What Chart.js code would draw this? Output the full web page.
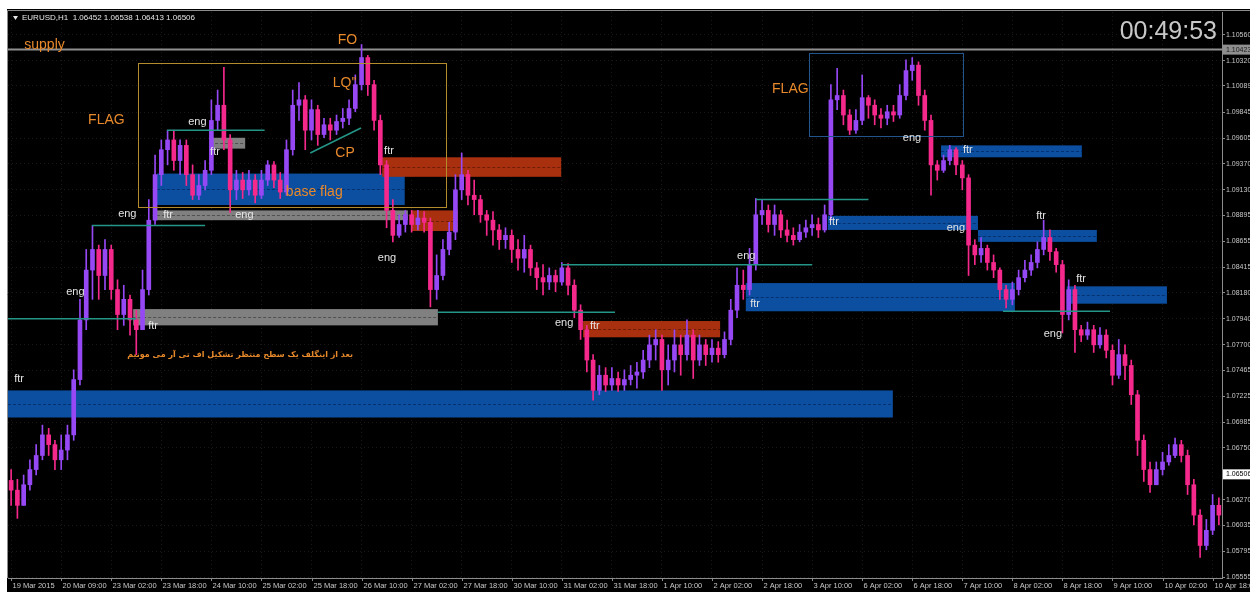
<!DOCTYPE html>
<html>
<head>
<meta charset="utf-8">
<script src="https://cdn.jsdelivr.net/npm/chart.js@4/dist/chart.umd.min.js"></script>
<style>
  html, body { margin: 0; padding: 0; background: #fff; width: 1250px; height: 592px; overflow: hidden; }
  #wrap { position: absolute; left: 7px; top: 9px; width: 1243px; height: 583px; background: #000; }
</style>
</head>
<body>
<div id="wrap"><canvas id="chart" width="1243" height="583"></canvas></div>
<script>
// EURUSD, 2h candles (open = previous close)
const firstOpen = 1.0645;
const closes = [
  1.0636,1.0622,1.0641,1.0655,1.0668,1.0687,1.0678,1.0664,1.0673,1.0687,
  1.0738,1.0793,1.0839,1.0858,1.0834,1.0858,1.0821,1.0798,1.0812,1.0793,
  1.0784,1.0821,1.0885,1.0927,1.0950,1.0959,1.0940,1.0954,1.0927,1.0908,
  1.0917,1.0931,1.0977,1.0991,1.0959,1.0913,1.0922,1.0913,1.0922,1.0908,
  1.0922,1.0936,1.0922,1.0911,1.0950,1.0991,1.0996,1.0968,1.0987,1.0964,
  1.0973,1.0968,1.0976,1.0979,1.0988,1.1010,1.1035,1.1010,1.0977,1.0936,
  1.0894,1.0871,1.0881,1.0890,1.0881,1.0887,1.0883,1.0821,1.0834,1.0858,
  1.0874,1.0913,1.0927,1.0908,1.0904,1.0890,1.0885,1.0876,1.0867,1.0871,
  1.0858,1.0850,1.0858,1.0841,1.0832,1.0828,1.0834,1.0828,1.0841,1.0825,
  1.0802,1.0784,1.0756,1.0728,1.0742,1.0733,1.0739,1.0733,1.0738,1.0742,
  1.0745,1.0756,1.0770,1.0775,1.0747,1.0756,1.0770,1.0761,1.0779,1.0756,
  1.0770,1.0761,1.0767,1.0761,1.0775,1.0802,1.0825,1.0821,1.0844,1.0890,
  1.0894,1.0881,1.0890,1.0876,1.0871,1.0867,1.0874,1.0878,1.0881,1.0876,
  1.0890,1.0996,1.1000,1.0982,1.0968,1.0977,1.0998,1.0991,1.0982,1.0979,
  1.0985,1.0982,1.1000,1.1023,1.1028,1.1000,1.0977,1.0936,1.0931,1.0940,
  1.0950,1.0936,1.0924,1.0862,1.0853,1.0859,1.0846,1.0839,1.0821,1.0812,
  1.0821,1.0832,1.0839,1.0846,1.0858,1.0869,1.0856,1.0844,1.0798,1.0821,
  1.0784,1.0779,1.0784,1.0770,1.0779,1.0765,1.0742,1.0761,1.0751,1.0724,
  1.0682,1.0655,1.0641,1.0655,1.0662,1.0668,1.0678,1.0668,1.0641,1.0613,
  1.0585,1.0599,1.0622,1.0613
];
const highs = [
  1.0655,1.0646,1.0650,1.0664,1.0678,1.0696,1.0693,1.0682,1.0687,1.0696,
  1.0747,1.0812,1.0858,1.0880,1.0862,1.0867,1.0862,1.0830,1.0825,1.0816,
  1.0802,1.0839,1.0904,1.0945,1.0959,1.0968,1.0968,1.0959,1.0959,1.0936,
  1.0927,1.0940,1.0996,1.1005,1.1026,1.0964,1.0931,1.0929,1.0931,1.0927,
  1.0931,1.0940,1.0939,1.0929,1.0959,1.1005,1.1012,1.1000,1.0996,1.0991,
  1.0979,1.0979,1.0982,1.0988,1.0996,1.1019,1.1047,1.1037,1.1014,1.0982,
  1.0940,1.0904,1.0890,1.0894,1.0894,1.0894,1.0893,1.0887,1.0853,1.0867,
  1.0883,1.0927,1.0947,1.0931,1.0922,1.0908,1.0894,1.0893,1.0881,1.0878,
  1.0876,1.0867,1.0871,1.0862,1.0846,1.0844,1.0841,1.0839,1.0846,1.0845,
  1.0830,1.0807,1.0788,1.0761,1.0751,1.0749,1.0749,1.0745,1.0747,1.0751,
  1.0754,1.0765,1.0779,1.0784,1.0779,1.0770,1.0784,1.0779,1.0793,1.0784,
  1.0779,1.0775,1.0775,1.0773,1.0782,1.0812,1.0841,1.0839,1.0859,1.0905,
  1.0904,1.0899,1.0899,1.0894,1.0885,1.0878,1.0881,1.0885,1.0890,1.0887,
  1.0899,1.1010,1.1025,1.1005,1.0987,1.0987,1.1019,1.1000,1.0996,1.0988,
  1.0991,1.0991,1.1010,1.1033,1.1035,1.1031,1.1005,1.0982,1.0940,1.0945,
  1.0954,1.0952,1.0940,1.0927,1.0867,1.0869,1.0862,1.0853,1.0841,1.0825,
  1.0828,1.0839,1.0848,1.0853,1.0865,1.0885,1.0876,1.0859,1.0848,1.0830,
  1.0825,1.0788,1.0791,1.0788,1.0786,1.0784,1.0770,1.0775,1.0770,1.0756,
  1.0728,1.0687,1.0662,1.0662,1.0671,1.0678,1.0684,1.0682,1.0673,1.0646,
  1.0618,1.0609,1.0632,1.0629
];
const lows = [
  1.0622,1.0610,1.0627,1.0636,1.0650,1.0664,1.0668,1.0655,1.0655,1.0664,
  1.0682,1.0733,1.0784,1.0812,1.0812,1.0821,1.0812,1.0784,1.0788,1.0779,
  1.0761,1.0784,1.0816,1.0881,1.0917,1.0936,1.0931,1.0927,1.0917,1.0904,
  1.0904,1.0913,1.0927,1.0968,1.0950,1.0892,1.0904,1.0905,1.0908,1.0901,
  1.0905,1.0917,1.0915,1.0905,1.0908,1.0945,1.0977,1.0950,1.0959,1.0954,
  1.0961,1.0959,1.0964,1.0970,1.0973,1.0985,1.1005,1.1000,1.0968,1.0927,
  1.0878,1.0865,1.0869,1.0874,1.0874,1.0876,1.0874,1.0805,1.0812,1.0830,
  1.0853,1.0867,1.0904,1.0899,1.0890,1.0883,1.0871,1.0862,1.0858,1.0859,
  1.0846,1.0839,1.0837,1.0834,1.0821,1.0816,1.0821,1.0819,1.0825,1.0816,
  1.0795,1.0775,1.0745,1.0719,1.0724,1.0727,1.0728,1.0727,1.0728,1.0733,
  1.0730,1.0739,1.0749,1.0756,1.0728,1.0733,1.0745,1.0742,1.0756,1.0739,
  1.0751,1.0751,1.0754,1.0754,1.0758,1.0770,1.0795,1.0812,1.0816,1.0839,
  1.0881,1.0874,1.0871,1.0869,1.0865,1.0862,1.0865,1.0869,1.0871,1.0869,
  1.0874,1.0885,1.0987,1.0973,1.0964,1.0965,1.0973,1.0979,1.0973,1.0970,
  1.0973,1.0976,1.0979,1.0996,1.1014,1.0991,1.0968,1.0908,1.0922,1.0929,
  1.0936,1.0927,1.0913,1.0834,1.0844,1.0846,1.0839,1.0832,1.0812,1.0804,
  1.0807,1.0816,1.0828,1.0834,1.0841,1.0853,1.0848,1.0837,1.0781,1.0793,
  1.0763,1.0773,1.0775,1.0763,1.0767,1.0758,1.0733,1.0739,1.0738,1.0715,
  1.0668,1.0644,1.0634,1.0646,1.0650,1.0659,1.0666,1.0662,1.0632,1.0604,
  1.0574,1.0581,1.0595,1.0604
];

const timeLabels = [
  "19 Mar 2015", "20 Mar 09:00", "23 Mar 02:00", "23 Mar 18:00", "24 Mar 10:00",
  "25 Mar 02:00", "25 Mar 18:00", "26 Mar 10:00", "27 Mar 02:00", "27 Mar 18:00",
  "30 Mar 10:00", "31 Mar 02:00", "31 Mar 18:00", "1 Apr 10:00", "2 Apr 02:00",
  "2 Apr 18:00", "3 Apr 10:00", "6 Apr 02:00", "6 Apr 18:00", "7 Apr 10:00",
  "8 Apr 02:00", "8 Apr 18:00", "9 Apr 10:00", "10 Apr 02:00", "10 Apr 18:00"
];
const barsPerLabel = 8;
const priceTicks = [
  1.10560, 1.10320, 1.10089, 1.09845, 1.09605, 1.09370, 1.09130, 1.08895, 1.08655,
  1.08415, 1.08180, 1.07940, 1.07700, 1.07465, 1.07225, 1.06985, 1.06750, 1.06270,
  1.06035, 1.05795, 1.05555
];
const supplyPrice = 1.10423;
const lastPrice = 1.06506;
const headerText = "EURUSD,H1  1.06452 1.06538 1.06413 1.06506";
const clockText = "00:49:53";

// zones: [fromBar, toBar, top, bottom]
const blueZones = [
  [23.3, 62.9, 1.0928, 1.0899],
  [-0.5, 140.9, 1.0728, 1.0703],
  [117.4, 160.4, 1.0827, 1.0801],
  [130.5, 154.5, 1.0889, 1.0876],
  [148.6, 171.1, 1.0954, 1.0943],
  [154.5, 173.5, 1.0876, 1.0865],
  [168.7, 184.7, 1.0824, 1.0808]
];
const grayZones = [
  [31.8, 37.4, 1.0961, 1.0951],
  [23.3, 63.4, 1.0894, 1.0885],
  [19.5, 68.2, 1.0803, 1.0788]
];
const redZones = [
  [59.3, 87.9, 1.0943, 1.0925],
  [63.9, 71.4, 1.0894, 1.0875],
  [91.4, 113.3, 1.0792, 1.0777]
];
const flagBox = [20.3, 69.5, 1.1030, 1.0897];
const flagBox2 = [127.5, 152.1, 1.1039, 1.0962];

// trend lines: [fromBar, fromPrice, toBar, toPrice]
const levels = [
  [-0.5, 1.0794, 20.0, 1.0794],
  [12.9, 1.0880, 31.0, 1.0880],
  [24.9, 1.0968, 40.5, 1.0968],
  [47.8, 1.0947, 55.9, 1.0970],
  [68.2, 1.0800, 96.5, 1.0800],
  [87.9, 1.0844, 128.0, 1.0844],
  [119.0, 1.0904, 137.0, 1.0904],
  [158.5, 1.0801, 175.6, 1.0801]
];

// small notes: [text, bar, price]
const notes = [
  ["eng", 28.3, 1.0976], ["ftr", 31.8, 1.0948], ["eng", 17.1, 1.0891], ["ftr", 24.3, 1.0890],
  ["eng", 35.8, 1.0890], ["ftr", 59.6, 1.0949], ["eng", 58.6, 1.0850], ["eng", 8.8, 1.0819],
  ["ftr", 21.9, 1.0787], ["ftr", 0.5, 1.0739], ["eng", 86.9, 1.0790], ["ftr", 92.5, 1.0787],
  ["eng", 116.0, 1.0852], ["ftr", 118.1, 1.0808], ["eng", 142.5, 1.0961], ["ftr", 152.1, 1.0950],
  ["ftr", 130.7, 1.0883], ["eng", 149.5, 1.0878], ["ftr", 163.8, 1.0889], ["ftr", 170.2, 1.0831],
  ["eng", 165.0, 1.0780]
];
const tags = [
  ["supply", 2.1, 1.1046], ["FLAG", 12.3, 1.0977], ["FO", 52.2, 1.1051], ["LQ''", 51.4, 1.1011],
  ["CP", 51.8, 1.0947], ["base flag", 43.9, 1.0911], ["FLAG", 121.6, 1.1006]
];
const persianNote = ["بعد از اینگلف یک سطح منتظر تشکیل اف تی آر می مونیم", 36.6, 1.0761];

const opens = closes.map((c, i) => (i === 0 ? firstOpen : closes[i - 1]));
const bull = "rgb(150,72,245)";
const bear = "rgb(245,40,140)";
const candleColors = closes.map((c, i) => (c >= opens[i] ? bull : bear));

const orange = "#e8892b";

const overlay = {
  id: "overlay",
  beforeDatasetsDraw(chart) {
    const { ctx, chartArea: a, scales: { x, y } } = chart;
    ctx.save();
    ctx.beginPath();
    ctx.rect(a.left, a.top, a.right - a.left, a.bottom - a.top);
    ctx.clip();
    const zone = (z, fill, mid) => {
      const x1 = x.getPixelForValue(z[0]), x2 = x.getPixelForValue(z[1]);
      const y1 = y.getPixelForValue(z[2]), y2 = y.getPixelForValue(z[3]);
      ctx.fillStyle = fill;
      ctx.fillRect(x1, y1, x2 - x1, y2 - y1);
      ctx.strokeStyle = mid;
      ctx.lineWidth = 1;
      ctx.setLineDash([3, 2]);
      ctx.beginPath();
      const ym = Math.round((y1 + y2) / 2) + 0.5;
      ctx.moveTo(x1, ym);
      ctx.lineTo(x2, ym);
      ctx.stroke();
      ctx.setLineDash([]);
    };
    blueZones.forEach(z => zone(z, "rgb(12,78,160)", "rgba(0,30,80,0.6)"));
    grayZones.forEach(z => zone(z, "rgb(128,128,128)", "rgba(60,60,60,0.7)"));
    redZones.forEach(z => zone(z, "rgb(168,48,14)", "rgba(90,20,0,0.7)"));

    // supply level
    ctx.strokeStyle = "#8f8f8f";
    ctx.lineWidth = 2;
    const ys = y.getPixelForValue(supplyPrice);
    ctx.beginPath();
    ctx.moveTo(a.left, ys);
    ctx.lineTo(a.right, ys);
    ctx.stroke();
    ctx.restore();
  },
  afterDatasetsDraw(chart) {
    const { ctx, chartArea: a, scales: { x, y } } = chart;
    ctx.save();
    ctx.beginPath();
    ctx.rect(a.left, a.top, a.right - a.left, a.bottom - a.top);
    ctx.clip();

    const outline = (b, color) => {
      const x1 = x.getPixelForValue(b[0]), x2 = x.getPixelForValue(b[1]);
      const y1 = y.getPixelForValue(b[2]), y2 = y.getPixelForValue(b[3]);
      ctx.strokeStyle = color;
      ctx.lineWidth = 1;
      ctx.strokeRect(Math.round(x1) + 0.5, Math.round(y1) + 0.5, Math.round(x2 - x1), Math.round(y2 - y1));
    };
    outline(flagBox, "#b58c2c");
    outline(flagBox2, "#22558c");

    ctx.strokeStyle = "rgb(36,150,135)";
    ctx.lineWidth = 1.5;
    levels.forEach(l => {
      ctx.beginPath();
      ctx.moveTo(x.getPixelForValue(l[0]), y.getPixelForValue(l[1]));
      ctx.lineTo(x.getPixelForValue(l[2]), y.getPixelForValue(l[3]));
      ctx.stroke();
    });

    ctx.textBaseline = "middle";
    ctx.textAlign = "left";
    ctx.fillStyle = "#e4e4e4";
    ctx.font = "11px 'Liberation Sans', Arial, sans-serif";
    notes.forEach(n => ctx.fillText(n[0], x.getPixelForValue(n[1]), y.getPixelForValue(n[2])));

    ctx.fillStyle = orange;
    ctx.font = "14px 'Liberation Sans', Arial, sans-serif";
    tags.forEach(t => ctx.fillText(t[0], x.getPixelForValue(t[1]), y.getPixelForValue(t[2])));

    ctx.font = "bold 8px 'DejaVu Sans', sans-serif";
    ctx.direction = "rtl";
    ctx.textAlign = "center";
    ctx.fillText(persianNote[0], x.getPixelForValue(persianNote[1]), y.getPixelForValue(persianNote[2]));
    ctx.restore();
  },
  afterDraw(chart) {
    const { ctx, chartArea: a, scales: { x, y } } = chart;
    ctx.save();
    // outer frame
    ctx.strokeStyle = "#8c8c8c";
    ctx.lineWidth = 1;
    ctx.beginPath();
    ctx.moveTo(0.5, 1.5);
    ctx.lineTo(chart.width, 1.5);
    ctx.moveTo(0.5, 1.5);
    ctx.lineTo(0.5, a.bottom);
    ctx.stroke();

    // time labels
    ctx.font = "7.5px 'Liberation Sans', Arial, sans-serif";
    ctx.fillStyle = "#c8c8c8";
    ctx.textBaseline = "middle";
    ctx.textAlign = "left";
    timeLabels.forEach((t, k) => {
      const px = Math.round(x.getPixelForValue(k * barsPerLabel)) + 0.5;
      ctx.beginPath();
      ctx.moveTo(px, a.bottom);
      ctx.lineTo(px, a.bottom + 3);
      ctx.stroke();
      ctx.fillText(t, px + 1, a.bottom + 8);
    });

    // price markers on the axis
    const marker = (price, bg, fg) => {
      const py = y.getPixelForValue(price);
      ctx.fillStyle = bg;
      ctx.fillRect(a.right + 1, py - 5, chart.width - a.right - 1, 10);
      ctx.fillStyle = fg;
      ctx.font = "7px 'Liberation Sans', Arial, sans-serif";
      ctx.fillText(price.toFixed(5), a.right + 4, py);
    };
    marker(supplyPrice, "#8f8f8f", "#1a1a1a");
    marker(lastPrice, "#ffffff", "#000000");

    // header and clock
    ctx.fillStyle = "#e6e6e6";
    ctx.beginPath();
    ctx.moveTo(6, 7);
    ctx.lineTo(11, 7);
    ctx.lineTo(8.5, 11);
    ctx.closePath();
    ctx.fill();
    ctx.font = "8px 'Liberation Sans', Arial, sans-serif";
    ctx.fillText(headerText, 15, 9);

    ctx.fillStyle = "#c8c8c8";
    ctx.font = "25px 'Liberation Sans', Arial, sans-serif";
    ctx.textAlign = "right";
    ctx.textBaseline = "alphabetic";
    ctx.fillText(clockText, a.right - 5, 30);
    ctx.restore();
  }
};

new Chart(document.getElementById("chart").getContext("2d"), {
  type: "bar",
  data: {
    datasets: [
      {
        label: "wick",
        data: closes.map((c, i) => ({ x: i, y: [Math.min(lows[i], opens[i], c), Math.max(highs[i], opens[i], c)] })),
        backgroundColor: candleColors,
        barThickness: 1,
        grouped: false,
        order: 2
      },
      {
        label: "body",
        data: closes.map((c, i) => ({ x: i, y: [opens[i], c] })),
        backgroundColor: candleColors,
        barThickness: 4,
        minBarLength: 1,
        grouped: false,
        order: 1
      }
    ]
  },
  options: {
    responsive: false,
    animation: false,
    devicePixelRatio: 1,
    layout: { padding: { left: 1, top: 3, right: 0, bottom: 0 } },
    plugins: { legend: { display: false }, tooltip: { enabled: false } },
    scales: {
      x: {
        type: "linear",
        min: -0.5,
        max: closes.length - 0.5,
        offset: false,
        afterBuildTicks: s => { s.ticks = timeLabels.map((t, k) => ({ value: k * barsPerLabel })); },
        afterFit: s => { s.height = 14; s.paddingLeft = 0; s.paddingRight = 0; },
        ticks: { display: false },
        grid: { color: "rgba(70,70,70,0.35)", drawTicks: false, offset: false },
        border: { color: "#8c8c8c", dash: [1, 3] }
      },
      y: {
        type: "linear",
        position: "right",
        min: 1.0555,
        max: 1.1077,
        afterBuildTicks: s => { s.ticks = priceTicks.map(v => ({ value: v })); },
        afterFit: s => { s.width = 28; s.paddingTop = 0; s.paddingBottom = 0; },
        ticks: {
          callback: v => v.toFixed(5),
          font: { size: 7, family: "'Liberation Sans', Arial, sans-serif" },
          color: "#c8c8c8",
          padding: 1,
          autoSkip: false
        },
        grid: { color: "rgba(70,70,70,0.35)", tickColor: "#8c8c8c", tickLength: 3 },
        border: { color: "#8c8c8c", dash: [1, 3] }
      }
    }
  },
  plugins: [overlay]
});
</script>
</body>
</html>
